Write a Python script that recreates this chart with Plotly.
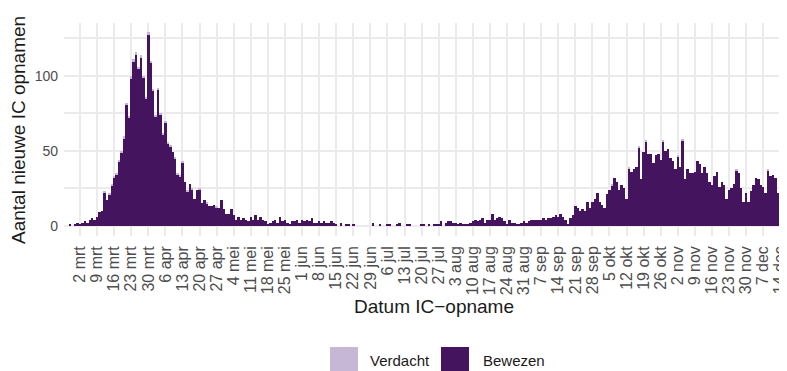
import pandas as pd
import plotly.graph_objects as go

# ---------------- data ----------------
start_date = "2020-02-27"

bewezen_A = [1, 0, 1, 2, 1, 2, 3, 2, 4, 5, 4, 6, 9, 10, 22, 17, 21, 27, 32, 34,
             43, 49, 58, 81, 72, 98, 109, 114, 105, 112, 99, 85, 127, 109, 90, 73, 91, 74, 61, 69,
             55, 53, 49, 45, 34]
bewezen_B = [33, 42, 29, 23, 28, 24, 18, 24, 24, 15, 17, 15, 13, 13, 14, 12, 12, 17, 11, 8,
             8, 11, 7, 4, 6, 4, 5, 4, 3, 6, 4, 7, 4, 6, 4, 3, 1, 2, 3, 4,
             2, 6, 3, 4, 2, 1, 3, 3, 4, 2, 4, 3]
bewezen_C = [4, 3, 5, 2, 2, 3, 2, 3, 2, 2, 3, 2,
             1, 0, 2, 0, 1, 1, 0, 1, 0, 0,
             0, 0, 0, 0, 0, 2, 0, 0, 1, 0,
             0, 1, 1, 0, 0, 1, 2, 0, 0, 1,
             1, 0, 0, 0, 0, 1, 1, 0, 1, 0,
             1, 1, 1, 3, 0, 2, 3]
bewezen_D = [3, 2, 2, 1, 2, 1, 1, 1, 2, 3, 4, 3, 4, 5, 2, 4, 4, 8, 4, 5,
             6, 5, 3, 1, 4, 2, 2, 1, 1, 2, 3, 2, 3, 4, 4, 4, 4, 4, 5, 4,
             5, 5, 6, 7, 6, 8, 6]
bewezen_E = [4, 1, 5, 7, 13, 12, 10, 11, 10, 16, 12, 16, 18, 22, 16, 14, 12, 21, 24, 27,
             32, 29, 24, 27, 25, 18, 38, 36, 38, 39, 52, 31, 49, 56, 48, 48, 42, 47, 48, 44,
             56, 50, 51, 45, 43]
bewezen_F = [38, 46, 39, 57, 31, 38, 35, 35, 36, 43, 41, 35, 39, 35, 29, 27, 33, 36, 26, 29,
             27, 18, 24, 25, 28, 37, 35, 25, 16, 22, 16, 23, 27, 32, 31, 27, 26, 22, 37, 33,
             34, 32, 22, 38, 37, 36]

verdacht_A = [0, 0, 0, 0, 0, 0, 0, 0, 0, 0, 0, 0, 0, 0, 1, 0, 1, 1, 1, 1,
              1, 1, 2, 1, 1, 2, 2, 2, 1, 2, 1, 1, 2, 1, 1, 1, 1, 1, 1, 1,
              1, 1, 0, 1, 1]
verdacht_B = [1, 1, 0, 1, 0, 1, 0, 0, 1, 0, 0, 1, 0, 0, 0, 1, 0, 0, 0, 0,
              0, 0, 0, 0, 0, 0, 0, 0, 0, 0, 0, 0, 0, 0, 0, 0, 0, 0, 0, 0,
              0, 0, 0, 0, 0, 0, 0, 0, 0, 0, 0, 0]
verdacht_C = [0, 0, 0, 0, 0, 0, 0, 0, 0, 0, 0, 0,
              0, 0, 0, 0, 0, 0, 0, 0, 0, 0,
              0, 0, 0, 0, 0, 0, 0, 0, 0, 0,
              0, 0, 0, 0, 0, 0, 0, 0, 0, 0,
              0, 0, 0, 0, 0, 0, 0, 0, 0, 0,
              0, 0, 0, 0, 0, 0, 0]
verdacht_D = [0, 0, 0, 0, 0, 0, 0, 0, 0, 0, 0, 0, 0, 0, 0, 0, 0, 0, 0, 0,
              0, 0, 0, 0, 0, 0, 0, 0, 0, 0, 0, 0, 0, 0, 0, 0, 0, 0, 0, 0,
              0, 0, 0, 0, 0, 0, 0]
verdacht_E = [0, 0, 0, 0, 0, 0, 0, 0, 0, 0, 0, 0, 0, 0, 0, 0, 0, 0, 0, 1,
              0, 0, 0, 0, 0, 0, 1, 0, 0, 0, 1, 0, 0, 1, 0, 0, 0, 0, 0, 0,
              1, 0, 0, 0, 0]
verdacht_F = [0, 1, 0, 1, 0, 0, 0, 0, 0, 0, 0, 0, 0, 0, 0, 0, 0, 0, 0, 0,
              0, 0, 0, 0, 0, 1, 0, 0, 0, 0, 0, 0, 0, 0, 0, 0, 0, 0, 1, 0,
              0, 0, 0, 1, 0, 0]

bewezen = bewezen_A + bewezen_B + bewezen_C + bewezen_D + bewezen_E + bewezen_F
verdacht = verdacht_A + verdacht_B + verdacht_C + verdacht_D + verdacht_E + verdacht_F

tick_labels = ["2 mrt", "9 mrt", "16 mrt", "23 mrt", "30 mrt", "6 apr", "13 apr", "20 apr",
               "27 apr", "4 mei", "11 mei", "18 mei", "25 mei", "1 jun", "8 jun", "15 jun",
               "22 jun", "29 jun", "6 jul", "13 jul", "20 jul", "27 jul", "3 aug", "10 aug",
               "17 aug", "24 aug", "31 aug", "7 sep", "14 sep", "21 sep", "28 sep", "5 okt",
               "12 okt", "19 okt", "26 okt", "2 nov", "9 nov", "16 nov", "23 nov", "30 nov",
               "7 dec", "14 dec"]
y_tick_vals = [0, 25, 50, 75, 100, 125]
y_tick_text = ["0", "", "50", "", "100", ""]

dates = pd.date_range(start_date, periods=len(bewezen), freq="D")
tick_dates = pd.date_range("2020-03-02", periods=len(tick_labels), freq="7D")

# ---------------- style ----------------
C_BEW = "#45145E"
C_VER = "#C6B7D7"
GRID = "#EBEBEB"
FONT = "Liberation Sans, Arial, sans-serif"

# the page body has an 8px margin: the figure is drawn at window offset (8, 8)
OFF = 8
WIN_W, WIN_H = 787, 371
W, H = WIN_W - OFF, WIN_H - OFF
L = 64 - OFF          # plot left edge at window x = 64
T = 23 - OFF          # plot top at window y = 23
bottom_win = 236      # plot bottom at window y = 236
B = WIN_H - bottom_win
pw = W - L
ph = H - T - B


def px_x(p):   # window pixel -> paper x
    return (p - OFF - L) / pw


def px_y(p):   # window pixel -> paper y
    return (bottom_win - p) / ph


fig = go.Figure()
fig.add_bar(x=dates, y=bewezen, name="Bewezen", marker=dict(color=C_BEW, line=dict(width=0)),
            showlegend=False)
fig.add_bar(x=dates, y=verdacht, name="Verdacht", marker=dict(color=C_VER, line=dict(width=0)),
            showlegend=False)

fig.update_layout(
    barmode="stack", bargap=0,
    width=W, height=H,
    margin=dict(l=L, r=0, t=T, b=B, pad=0),
    plot_bgcolor="white", paper_bgcolor="white",
    showlegend=False,
    font=dict(family=FONT),
)
fig.update_xaxes(
    type="date", automargin=False,
    range=["2020-02-24 10:40", "2020-12-16 18:00"],
    tickmode="array", tickvals=tick_dates, ticktext=tick_labels,
    tickangle=-90, tickfont=dict(size=16, color="#4D4D4D", family=FONT),
    ticklabeloverflow="allow",
    showgrid=True, gridcolor=GRID, gridwidth=1.5,
    zeroline=False, showline=False, ticks="", ticklabelstandoff=6,
)
fig.update_yaxes(
    automargin=False,
    range=[-6.65, 135.05],
    tickmode="array", tickvals=y_tick_vals, ticktext=y_tick_text,
    tickfont=dict(size=14, color="#4D4D4D", family=FONT),
    showgrid=True, gridcolor=GRID, gridwidth=1.5,
    zeroline=False, showline=False, ticks="", ticklabelstandoff=5,
)

annotations = [
    dict(text="Datum IC\u2212opname", xref="paper", yref="paper",
         x=px_x(433.5), y=px_y(306), xanchor="center", yanchor="middle",
         showarrow=False, font=dict(size=19, color="#1A1A1A", family=FONT)),
    dict(text="Aantal nieuwe IC opnamen", xref="paper", yref="paper",
         x=px_x(19), y=px_y(130), xanchor="center", yanchor="middle", textangle=-90,
         showarrow=False, font=dict(size=19, color="#1A1A1A", family=FONT)),
    dict(text="Verdacht", xref="paper", yref="paper",
         x=px_x(368), y=px_y(360), xanchor="left", yanchor="middle",
         showarrow=False, font=dict(size=15, color="#1A1A1A", family=FONT)),
    dict(text="Bewezen", xref="paper", yref="paper",
         x=px_x(481), y=px_y(360), xanchor="left", yanchor="middle",
         showarrow=False, font=dict(size=15, color="#1A1A1A", family=FONT)),
]
shapes = [
    dict(type="rect", xref="paper", yref="paper", x0=px_x(330), x1=px_x(358),
         y0=px_y(375), y1=px_y(347), fillcolor=C_VER, line=dict(width=0), layer="above"),
    dict(type="rect", xref="paper", yref="paper", x0=px_x(441), x1=px_x(469),
         y0=px_y(375), y1=px_y(347), fillcolor=C_BEW, line=dict(width=0), layer="above"),
]
fig.update_layout(annotations=annotations, shapes=shapes)

fig.write_html("out.html")
